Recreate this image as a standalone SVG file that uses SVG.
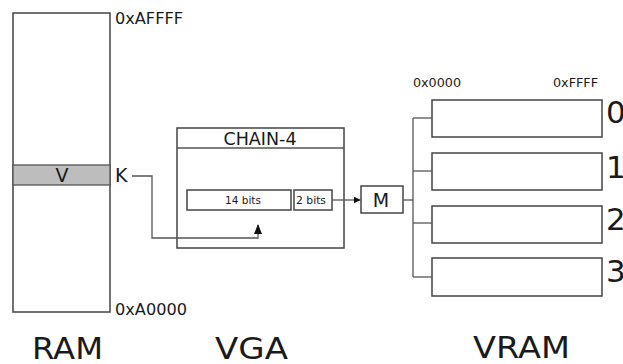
<svg xmlns="http://www.w3.org/2000/svg" width="623" height="364" viewBox="0 0 623 364">
<style>
.box{fill:#fff;stroke:#444;stroke-width:1.5}
.ln{fill:none;stroke:#555;stroke-width:1.3}
text{font-family:"DejaVu Sans",Verdana,sans-serif;fill:#1a1a1a}
</style>
<defs>
<marker id="ah" viewBox="0 0 10 10" refX="9" refY="5" markerWidth="7" markerHeight="7" orient="auto" markerUnits="userSpaceOnUse">
<path d="M0,0 L10,5 L0,10 z" fill="#111"/>
</marker>
<marker id="ah2" viewBox="0 0 10 10" refX="9" refY="5" markerWidth="10" markerHeight="10" orient="auto" markerUnits="userSpaceOnUse">
<path d="M0,1 L10,5 L0,9 z" fill="#111"/>
</marker>
</defs>
<rect width="623" height="364" fill="#fff"/>
<g id="ram">
<rect class="box" x="13" y="13" width="97" height="299"/>
<rect x="13" y="165" width="97" height="20" fill="#bdbdbd" stroke="#555" stroke-width="1.3"/>
<text x="62" y="182" font-size="19" text-anchor="middle">V</text>
<text x="115" y="24" font-size="15.5" textLength="68" lengthAdjust="spacingAndGlyphs">0xAFFFF</text>
<text x="115" y="315" font-size="15.5" textLength="72" lengthAdjust="spacingAndGlyphs">0xA0000</text>
<text x="115" y="182" font-size="19">K</text>
<text x="32" y="359" font-size="30.5" textLength="71" lengthAdjust="spacingAndGlyphs">RAM</text>
</g>
<g id="vga">
<rect class="box" x="177" y="128" width="167" height="120"/>
<line class="ln" x1="177" y1="148" x2="344" y2="148" stroke="#444" stroke-width="1.5"/>
<text x="260" y="145" font-size="17.5" text-anchor="middle">CHAIN-4</text>
<text x="215" y="359" font-size="30.5" textLength="73" lengthAdjust="spacingAndGlyphs">VGA</text>
</g>
<g id="bits14">
<rect class="box" x="187" y="190" width="104" height="20"/>
<text x="243" y="203.5" font-size="10.5" text-anchor="middle">14 bits</text>
</g>
<g id="bits2">
<rect class="box" x="294" y="190" width="38" height="20"/>
<text x="296" y="203.5" font-size="10.5" textLength="30" lengthAdjust="spacingAndGlyphs">2 bits</text>
</g>
<g id="m">
<rect class="box" x="361" y="186" width="42" height="27"/>
<text x="381" y="207" font-size="19" text-anchor="middle">M</text>
</g>
<g id="vram">
<rect class="box" x="432" y="100" width="170" height="37"/>
<rect class="box" x="432" y="153" width="170" height="37"/>
<rect class="box" x="432" y="206" width="170" height="37"/>
<rect class="box" x="432" y="258" width="170" height="38"/>
<text x="606" y="123" font-size="31">0</text>
<text x="606" y="178" font-size="31">1</text>
<text x="606" y="230" font-size="31">2</text>
<text x="606" y="282" font-size="31">3</text>
<text x="413" y="87" font-size="12.7" textLength="48" lengthAdjust="spacingAndGlyphs">0x0000</text>
<text x="553" y="87" font-size="12.7" textLength="45" lengthAdjust="spacingAndGlyphs">0xFFFF</text>
<text x="473" y="358" font-size="31" textLength="97" lengthAdjust="spacingAndGlyphs">VRAM</text>
</g>
<g id="connectors">
<polyline class="ln" points="132,176 152,176 152,238 258,238 258,225" marker-end="url(#ah2)"/>
<line class="ln" x1="332" y1="200" x2="360" y2="200" marker-end="url(#ah)"/>
<polyline class="ln" points="403,200 413,200"/>
<line class="ln" x1="413" y1="118" x2="413" y2="277"/>
<line class="ln" x1="413" y1="118" x2="432" y2="118"/>
<line class="ln" x1="413" y1="171" x2="432" y2="171"/>
<line class="ln" x1="413" y1="223" x2="432" y2="223"/>
<line class="ln" x1="413" y1="277" x2="432" y2="277"/>
</g>
</svg>
